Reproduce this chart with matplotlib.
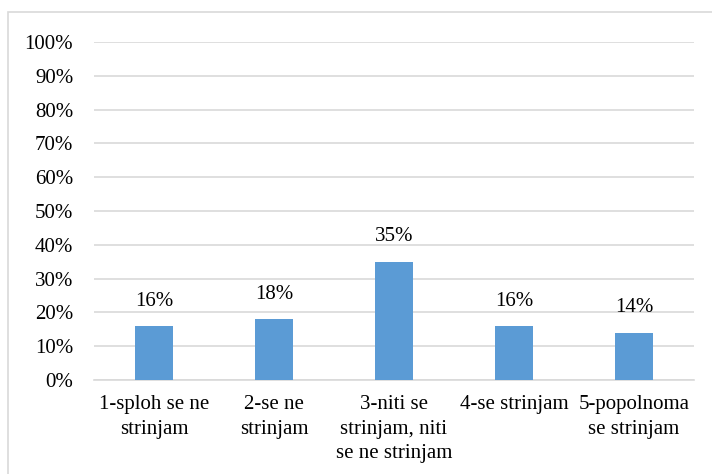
import matplotlib.pyplot as plt
from matplotlib.patches import Rectangle
from matplotlib.ticker import PercentFormatter

categories = [
    '1-sploh se ne\nstrinjam',
    '2-se ne\nstrinjam',
    '3-niti se\nstrinjam, niti\nse ne strinjam',
    '4-se strinjam',
    '5-popolnoma\nse strinjam',
]
shares = [16, 18, 35, 16, 14]
y_ticks = list(range(0, 101, 10))

bar_color = '#5B9BD5'
grid_color = '#D9D9D9'
font_size = 15

plt.rcParams['font.family'] = ['Liberation Serif', 'DejaVu Serif']

fig = plt.figure(figsize=(7.12, 4.74), dpi=100)
ax = fig.add_axes([94 / 712, 1 - 380 / 474, 600 / 712, 338 / 474])

# chart frame, open at the right and bottom edges
fig.patches.append(Rectangle((8 / 712, -0.05), 1.0, 1 - 12 / 474 + 0.05,
                             transform=fig.transFigure, fill=False,
                             edgecolor=grid_color, linewidth=1.2))

x = range(len(categories))
bars = ax.bar(x, shares, width=0.32, color=bar_color, zorder=3)
for rect, v in zip(bars, shares):
    ax.annotate(f'{v}%', (rect.get_x() + rect.get_width() / 2, v),
                xytext=(0, 11), textcoords='offset points',
                ha='center', va='bottom', fontsize=font_size)

ax.set_xlim(-0.5, len(categories) - 0.5)
ax.set_ylim(0, 100)
ax.set_yticks(y_ticks)
ax.yaxis.set_major_formatter(PercentFormatter(decimals=0))
ax.set_xticks(list(x))
ax.set_xticklabels(categories, fontsize=font_size, linespacing=1.4)
ax.tick_params(axis='y', labelsize=font_size, length=0, pad=15)
ax.tick_params(axis='x', length=0, pad=11)

ax.grid(axis='y', color=grid_color, linewidth=1.2, zorder=0)
for side in ('top', 'right', 'left'):
    ax.spines[side].set_visible(False)
ax.spines['bottom'].set_color(grid_color)
ax.spines['bottom'].set_linewidth(1.2)

fig.savefig('out.png', dpi=100)
